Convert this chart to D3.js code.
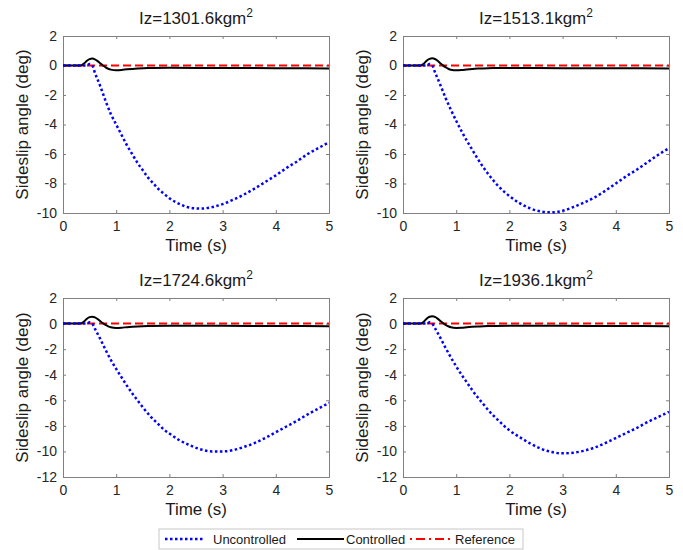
<!DOCTYPE html>
<html>
<head>
<meta charset="utf-8">
<script src="https://cdn.jsdelivr.net/npm/d3@7"></script>
<style>
  body { margin: 0; background: #fff; }
  svg { font-family: "Liberation Sans", Arial, sans-serif; }
</style>
</head>
<body>
<div id="container"></div>
<script>
const width = 683;
const height = 550;

// panel titles (moment of inertia)
const titles = ["1301.6", "1513.1", "1724.6", "1936.1"];
const xTicks = [0, 1, 2, 3, 4, 5];
const yTicksTop = [2, 0, -2, -4, -6, -8, -10];
const yTicksBottom = [2, 0, -2, -4, -6, -8, -10, -12];

// time samples for the uncontrolled curves
const tU = [0, 0.45, 0.5, 0.55, 0.6, 0.7, 0.8, 0.9, 1.0, 1.1, 1.2, 1.3, 1.4, 1.5, 1.6, 1.7, 1.8, 1.9, 2.0,
            2.2, 2.4, 2.6, 2.8, 3.0, 3.2, 3.4, 3.6, 3.8, 4.0, 4.2, 4.4, 4.6, 4.8, 5.0];
const unc1 = [0, 0, 0.1, 0, -0.5, -1.4, -2.4, -3.3, -4.0, -4.7, -5.4, -6.0, -6.6, -7.1, -7.6, -8.0, -8.4, -8.7, -9.0,
              -9.4, -9.65, -9.7, -9.6, -9.4, -9.1, -8.75, -8.35, -7.9, -7.45, -6.95, -6.5, -6.0, -5.6, -5.2];
const unc2 = [0, 0, 0.1, 0, -0.45, -1.3, -2.2, -3.0, -3.75, -4.45, -5.1, -5.7, -6.3, -6.85, -7.35, -7.8, -8.2, -8.55, -8.85,
              -9.35, -9.7, -9.9, -9.95, -9.85, -9.6, -9.3, -8.95, -8.5, -8.0, -7.5, -7.05, -6.55, -6.05, -5.6];
const unc3 = [0, 0, 0.1, 0, -0.4, -1.2, -2.05, -2.85, -3.55, -4.2, -4.85, -5.45, -6.0, -6.55, -7.05, -7.5, -7.9, -8.3, -8.6,
              -9.15, -9.55, -9.85, -10.0, -10.0, -9.9, -9.65, -9.35, -8.95, -8.5, -8.05, -7.6, -7.1, -6.65, -6.2];
const unc4 = [0, 0, 0.1, 0, -0.35, -1.1, -1.9, -2.65, -3.35, -4.0, -4.6, -5.2, -5.75, -6.25, -6.75, -7.2, -7.6, -8.0, -8.35,
              -8.9, -9.4, -9.8, -10.05, -10.15, -10.1, -9.95, -9.7, -9.35, -8.95, -8.55, -8.15, -7.7, -7.3, -6.9];

// time samples for the controlled curves
const tC = [0, 0.3, 0.35, 0.4, 0.45, 0.5, 0.55, 0.6, 0.65, 0.7, 0.75, 0.8, 0.85, 0.9, 1.0, 1.1, 1.2, 1.4, 1.6, 2.0, 3.0, 4.0, 5.0];
const ctl1 = [0, 0, 0.02, 0.15, 0.32, 0.43, 0.47, 0.42, 0.3, 0.15, 0, -0.12, -0.22, -0.28, -0.32, -0.3, -0.26, -0.2, -0.17, -0.16, -0.17, -0.18, -0.2];
const ctl2 = [0, 0, 0.02, 0.16, 0.34, 0.45, 0.49, 0.44, 0.32, 0.16, 0.01, -0.12, -0.22, -0.29, -0.33, -0.31, -0.27, -0.21, -0.18, -0.17, -0.18, -0.19, -0.2];
const ctl3 = [0, 0, 0.03, 0.18, 0.38, 0.5, 0.54, 0.49, 0.36, 0.19, 0.03, -0.11, -0.22, -0.29, -0.34, -0.32, -0.28, -0.22, -0.19, -0.17, -0.18, -0.19, -0.2];
const ctl4 = [0, 0, 0.03, 0.19, 0.4, 0.53, 0.57, 0.52, 0.39, 0.21, 0.04, -0.1, -0.21, -0.29, -0.34, -0.33, -0.29, -0.23, -0.19, -0.18, -0.18, -0.19, -0.2];

const refT = [0, 5];
const refV = [0, 0];

const panels = [
  { title: titles[0], unc: unc1, ctl: ctl1, x0: 63, y0: 36, y1: 213, yMin: -10, yTicks: yTicksTop },
  { title: titles[1], unc: unc2, ctl: ctl2, x0: 403, y0: 36, y1: 213, yMin: -10, yTicks: yTicksTop },
  { title: titles[2], unc: unc3, ctl: ctl3, x0: 63, y0: 298, y1: 477, yMin: -12, yTicks: yTicksBottom },
  { title: titles[3], unc: unc4, ctl: ctl4, x0: 403, y0: 298, y1: 477, yMin: -12, yTicks: yTicksBottom }
];
const plotW = 266;

const svg = d3.create("svg").attr("width", width).attr("height", height);

panels.forEach(p => {
  const x = d3.scaleLinear().domain([0, 5]).range([p.x0, p.x0 + plotW]);
  const y = d3.scaleLinear().domain([p.yMin, 2]).range([p.y1, p.y0]);
  const g = svg.append("g");

  const clipId = "clip" + p.x0 + "_" + p.y0;
  g.append("clipPath").attr("id", clipId).append("rect")
    .attr("x", p.x0).attr("y", p.y0 - 2).attr("width", plotW).attr("height", p.y1 - p.y0 + 4);

  // axes with inward ticks
  const ax = g.append("g").attr("transform", `translate(0,${p.y1})`)
    .call(d3.axisBottom(x).tickValues(xTicks).tickSize(-3).tickPadding(8).tickFormat(d3.format("d")));
  const axTop = g.append("g").attr("transform", `translate(0,${p.y0})`)
    .call(d3.axisTop(x).tickValues(xTicks).tickSize(-3).tickFormat(""));
  const ay = g.append("g").attr("transform", `translate(${p.x0},0)`)
    .call(d3.axisLeft(y).tickValues(p.yTicks).tickSize(-3).tickPadding(6).tickFormat(d => d3.format("d")(d).replace("−", "-")));
  const ayR = g.append("g").attr("transform", `translate(${p.x0 + plotW},0)`)
    .call(d3.axisRight(y).tickValues(p.yTicks).tickSize(-3).tickFormat(""));
  [ax, axTop, ay, ayR].forEach(a => {
    a.select(".domain").attr("stroke", "#808080").attr("stroke-width", 1);
    a.selectAll(".tick line").attr("stroke", "#808080");
    a.selectAll(".tick text").attr("fill", "#262626").style("font-size", "14px").style("font-family", "Liberation Sans, Arial, sans-serif");
  });

  const lines = g.append("g").attr("clip-path", `url(#${clipId})`);
  const line = d3.line().x(d => x(d[0])).y(d => y(d[1])).curve(d3.curveMonotoneX);

  lines.append("path")
    .datum(refT.map((t, i) => [t, refV[i]]))
    .attr("d", line).attr("fill", "none")
    .attr("stroke", "#ff0000").attr("stroke-width", 2).attr("stroke-dasharray", "8,4");

  lines.append("path")
    .datum(tC.map((t, i) => [t, p.ctl[i]]))
    .attr("d", line).attr("fill", "none")
    .attr("stroke", "#000").attr("stroke-width", 2);

  lines.append("path")
    .datum(tU.map((t, i) => [t, p.unc[i]]))
    .attr("d", line).attr("fill", "none")
    .attr("stroke", "#0000ff").attr("stroke-width", 2.5).attr("stroke-dasharray", "2.5,2.5");

  // title with superscript
  const title = g.append("text")
    .attr("x", p.x0 + plotW / 2).attr("y", p.y0 - 12)
    .attr("text-anchor", "middle").attr("fill", "#1a1a1a").style("font-size", "17px");
  title.append("tspan").text("Iz=" + p.title + "kgm");
  title.append("tspan").attr("dy", -7).style("font-size", "12px").text("2");

  g.append("text")
    .attr("x", p.x0 + plotW / 2).attr("y", p.y1 + 38)
    .attr("text-anchor", "middle").attr("fill", "#1a1a1a").style("font-size", "17px")
    .text("Time (s)");

  g.append("text")
    .attr("transform", `translate(${p.x0 - 35},${(p.y0 + p.y1) / 2}) rotate(-90)`)
    .attr("text-anchor", "middle").attr("fill", "#1a1a1a").style("font-size", "17px")
    .text("Sideslip angle (deg)");
});

// legend
const legend = svg.append("g");
legend.append("rect").attr("x", 159).attr("y", 529).attr("width", 364).attr("height", 20)
  .attr("fill", "#fff").attr("stroke", "#c8c8c8");
const legendItems = [
  { label: "Uncontrolled", color: "#0000ff", dash: "2.5,2.5", w: 2.5, x1: 165, x2: 203, tx: 213 },
  { label: "Controlled", color: "#000", dash: null, w: 2, x1: 297, x2: 344, tx: 346 },
  { label: "Reference", color: "#ff0000", dash: "2,4,9,4", w: 2, x1: 410, x2: 452, tx: 455 }
];
legendItems.forEach(it => {
  legend.append("line").attr("x1", it.x1).attr("x2", it.x2).attr("y1", 539).attr("y2", 539)
    .attr("stroke", it.color).attr("stroke-width", it.w).attr("stroke-dasharray", it.dash);
  legend.append("text").attr("x", it.tx).attr("y", 544).attr("fill", "#1a1a1a")
    .style("font-size", "13px").text(it.label);
});

document.getElementById("container").append(svg.node());
</script>
</body>
</html>
